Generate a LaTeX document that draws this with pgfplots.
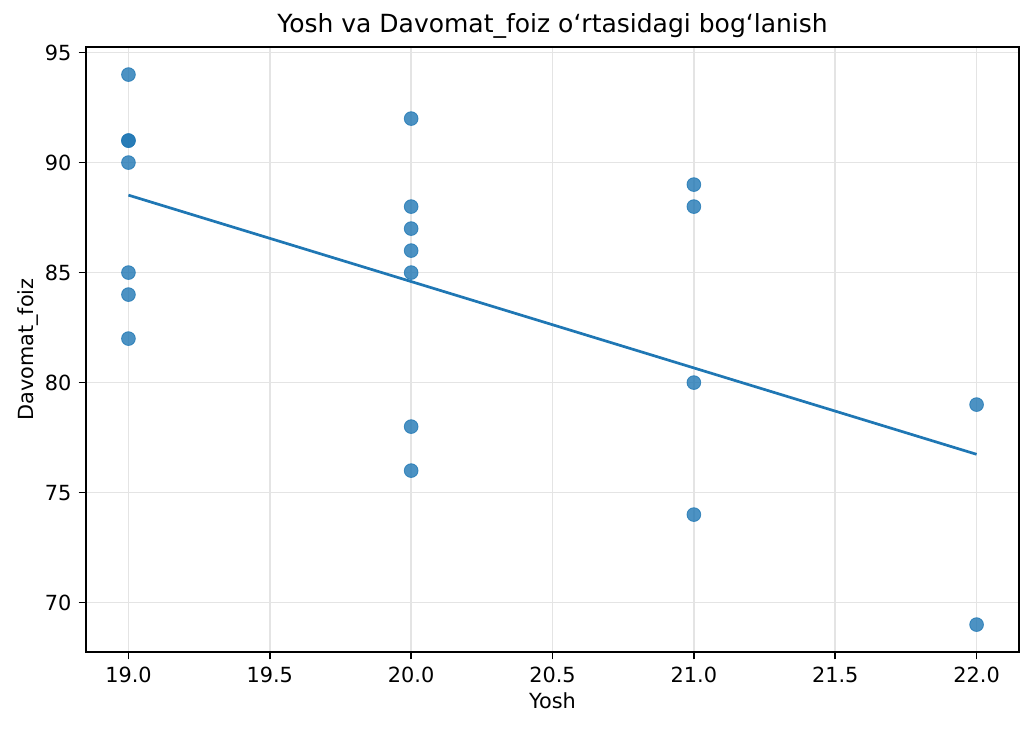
\documentclass[border=0pt]{standalone}
\usepackage{pgfplots}
\pgfplotsset{compat=1.18}
\usepackage{fontspec}
\setmainfont{DejaVu Sans}
\definecolor{tabblue}{HTML}{1F77B4}
\definecolor{gridc}{HTML}{E4E4E4}
\begin{document}
\begin{tikzpicture}
\useasboundingbox (-41.3pt,-37.9pt) rectangle (455pt,313pt);
\begin{axis}[
  at={(0,0)}, anchor=south west,
  scale only axis, width=447.8pt, height=290.4pt,
  xmin=18.85, xmax=22.15, ymin=67.75, ymax=95.25,
  xtick={19,19.5,20,20.5,21,21.5,22},
  xticklabels={19.0,19.5,20.0,20.5,21.0,21.5,22.0},
  ytick={70,75,80,85,90,95},
  /pgf/number format/assume math mode=true,
  ticklabel style={font=\fontsize{10}{12}\selectfont},
  tick align=outside, tick pos=left,
  major tick length=3.5pt,
  every tick/.style={black, line width=0.8pt},
  axis line style={black, line width=0.8pt},
  grid=major,
  major grid style={gridc, line width=0.8pt},
  xlabel={Yosh}, ylabel={Davomat\_foiz},
  label style={font=\fontsize{10}{12}\selectfont},
  xlabel style={yshift=2pt},
  ylabel style={yshift=-3.8pt},
  title={Yosh va Davomat\_foiz o‘rtasidagi bog‘lanish},
  title style={font=\fontsize{12}{14}\selectfont, yshift=-5.5pt},
  clip=false,
]
\addplot[only marks, mark=*, mark size=3.3pt, mark options={fill=tabblue, draw=tabblue, fill opacity=0.8, draw opacity=0.8}] coordinates {
(19,94) (19,91) (19,91) (19,90) (19,85) (19,84) (19,82)
(20,92) (20,88) (20,87) (20,86) (20,85) (20,78) (20,76)
(21,89) (21,88) (21,80) (21,74)
(22,79) (22,69)
};
\addplot[tabblue, line width=1.3pt, no marks] coordinates {(19,88.52) (22,76.74)};
\end{axis}
\end{tikzpicture}
\end{document}
